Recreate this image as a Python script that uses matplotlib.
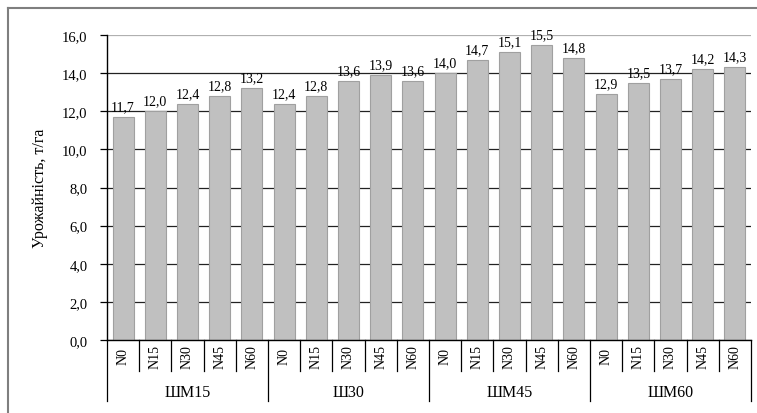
import numpy as np
import matplotlib.pyplot as plt
from matplotlib.transforms import blended_transform_factory
from matplotlib.lines import Line2D

plt.rcParams['font.family'] = ['Liberation Serif', 'DejaVu Serif']

groups = ['ШМ15', 'Ш30', 'ШМ45', 'ШМ60']
doses = ['N0', 'N15', 'N30', 'N45', 'N60']
yields = [
    [11.7, 12.0, 12.4, 12.8, 13.2],
    [12.4, 12.8, 13.6, 13.9, 13.6],
    [14.0, 14.7, 15.1, 15.5, 14.8],
    [12.9, 13.5, 13.7, 14.2, 14.3],
]
yticks = [0, 2, 4, 6, 8, 10, 12, 14, 16]

values = np.array(yields).ravel()
n = len(values)
x = np.arange(n)

fig = plt.figure(figsize=(7.57, 4.14), dpi=100)
ax = fig.add_axes([107 / 757, 73 / 414, 644 / 757, 305 / 414])

# outer chart frame
fig.add_artist(Line2D([8 / 757, 1.0], [1 - 9 / 414, 1 - 9 / 414], color='#7f7f7f', lw=1.5))
fig.add_artist(Line2D([8 / 757, 8 / 757], [0, 1 - 9 / 414], color='#7f7f7f', lw=1.5))

for t in yticks:
    ax.axhline(t, color='#b0b0b0' if t == 16 else '#222222', lw=0.9, zorder=0)

bars = ax.bar(x, values, width=0.65, color='#c0c0c0', edgecolor='#a0a0a0', lw=0.8, zorder=2)
for xi, v in zip(x, values):
    ax.text(xi, v + 0.2, f'{v:.1f}'.replace('.', ','), ha='center', va='bottom', fontsize=10)

ax.set_xlim(-0.5, n - 0.5)
ax.set_ylim(0, 16)
ax.set_yticks(yticks)
ax.set_yticklabels([f'{t:.1f}'.replace('.', ',') for t in yticks], fontsize=10.5)
ax.tick_params(axis='y', direction='out', length=5, width=0.9, pad=9)
ax.set_xticks([])
for s in ['top', 'right']:
    ax.spines[s].set_visible(False)
ax.spines['left'].set_linewidth(1)
ax.spines['bottom'].set_linewidth(1)
ax.set_ylabel('Урожайність, т/га', fontsize=11.5, labelpad=10)

# two-level category axis
tr = blended_transform_factory(ax.transData, ax.transAxes)
for i in range(n + 1):
    depth = -0.2 if i % len(doses) == 0 else -0.102
    ax.plot([i - 0.5, i - 0.5], [0, depth], color='black', lw=0.9, transform=tr, clip_on=False)
for i in range(n):
    ax.text(i, -0.052, doses[i % len(doses)], rotation=90, ha='center', va='center',
            fontsize=10, transform=tr)
for g, name in enumerate(groups):
    ax.text(g * len(doses) + (len(doses) - 1) / 2, -0.171, name, ha='center', va='center',
            fontsize=11.5, transform=tr)

fig.savefig('out.png', dpi=100)
